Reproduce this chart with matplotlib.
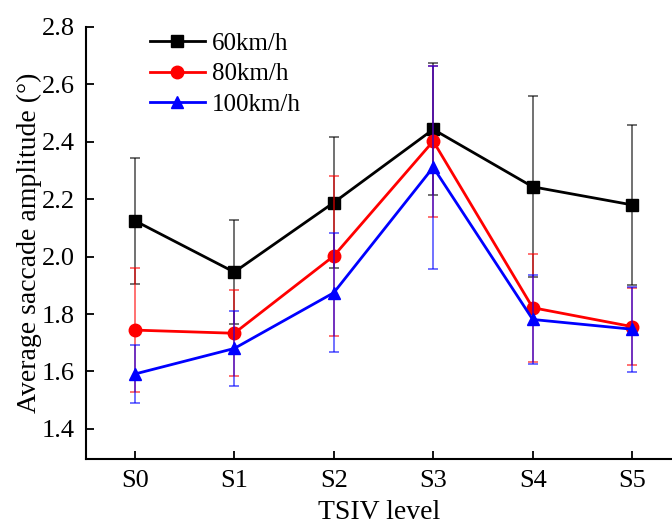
import numpy as np
import matplotlib
matplotlib.use("Agg")
import matplotlib.pyplot as plt

plt.rcParams["font.family"] = ["Liberation Serif", "DejaVu Serif"]

# ========== DATA ==========
levels = ["S0", "S1", "S2", "S3", "S4", "S5"]
labels = ["60km/h", "80km/h", "100km/h"]

mean_60 = [2.125, 1.946, 2.188, 2.443, 2.243, 2.180]
err_60 = [0.22, 0.18, 0.228, 0.23, 0.315, 0.28]

mean_80 = [1.744, 1.733, 2.002, 2.402, 1.822, 1.756]
err_80 = [0.215, 0.15, 0.28, 0.263, 0.188, 0.133]

mean_100 = [1.591, 1.680, 1.874, 2.311, 1.781, 1.747]
err_100 = [0.10, 0.13, 0.208, 0.353, 0.155, 0.148]
# ==========================

colors = ["black", "red", "blue"]
markers = ["s", "o", "^"]
msizes = [8, 9, 9]

fig = plt.figure(figsize=(6.72, 5.27), dpi=100)
ax = fig.add_axes([0.128, 0.129, 0.872, 0.82])

x = np.arange(len(levels))
for m, e, c, mk, ms, lab in zip([mean_60, mean_80, mean_100],
                                [err_60, err_80, err_100],
                                colors, markers, msizes, labels):
    ax.errorbar(x, m, yerr=e, fmt="none", ecolor=c, elinewidth=1.3,
                capsize=3.5, capthick=1.3, alpha=0.6)
    ax.plot(x, m, color=c, marker=mk, markersize=ms, linewidth=2, label=lab)

ax.set_xlim(-0.49, 5.4)
ax.set_ylim(1.295, 2.8)
ax.set_yticks([1.4, 1.6, 1.8, 2.0, 2.2, 2.4, 2.6, 2.8])
ax.set_yticklabels(["1.4", "1.6", "1.8", "2.0", "2.2", "2.4", "2.6", "2.8"])
ax.set_xticks(x)
ax.set_xticklabels(levels)

ax.spines["top"].set_visible(False)
ax.spines["right"].set_visible(False)
ax.spines["left"].set_linewidth(1.5)
ax.spines["bottom"].set_linewidth(1.5)
ax.tick_params(direction="in", length=6, width=1.3, labelsize=19, pad=8)

ax.set_xlabel("TSIV level", fontsize=20, labelpad=6)
ax.set_ylabel("Average saccade amplitude (°)", fontsize=20, labelpad=0)

ax.legend(loc="upper left", bbox_to_anchor=(0.07, 1.04), frameon=False,
          fontsize=18, handlelength=2.2, handletextpad=0.3, labelspacing=0.33)

fig.savefig("out.png", dpi=100)
